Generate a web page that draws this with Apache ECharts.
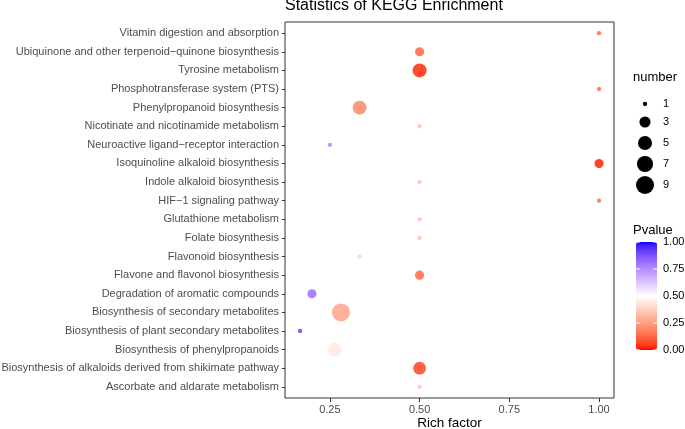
<!DOCTYPE html>
<html><head><meta charset="utf-8">
<script src="https://cdn.jsdelivr.net/npm/echarts@6/dist/echarts.min.js"></script>
<style>html,body{margin:0;padding:0;background:#fff}#c{width:685px;height:429px}</style>
</head><body><div id="c"></div>
<script>
// categories listed bottom -> top
const categories = [
 "Ascorbate and aldarate metabolism",
 "Biosynthesis of alkaloids derived from shikimate pathway",
 "Biosynthesis of phenylpropanoids",
 "Biosynthesis of plant secondary metabolites",
 "Biosynthesis of secondary metabolites",
 "Degradation of aromatic compounds",
 "Flavone and flavonol biosynthesis",
 "Flavonoid biosynthesis",
 "Folate biosynthesis",
 "Glutathione metabolism",
 "HIF\u22121 signaling pathway",
 "Indole alkaloid biosynthesis",
 "Isoquinoline alkaloid biosynthesis",
 "Neuroactive ligand\u2212receptor interaction",
 "Nicotinate and nicotinamide metabolism",
 "Phenylpropanoid biosynthesis",
 "Phosphotransferase system (PTS)",
 "Tyrosine metabolism",
 "Ubiquinone and other terpenoid\u2212quinone biosynthesis",
 "Vitamin digestion and absorption"
];
const richFactor = [0.5, 0.5, 0.263, 0.167, 0.281, 0.2, 0.5, 0.333, 0.5, 0.5, 1.0, 0.5, 1.0, 0.25, 0.5, 0.333, 1.0, 0.5, 0.5, 1.0];
const geneNumber = [1, 4, 5, 1, 9, 2, 2, 1, 1, 1, 1, 1, 2, 1, 1, 5, 1, 5, 2, 1];
const pValue     = [0.36, 0.11, 0.45, 0.86, 0.30, 0.77, 0.18, 0.58, 0.36, 0.36, 0.18, 0.36, 0.06, 0.72, 0.36, 0.24, 0.18, 0.07, 0.18, 0.18];
const xTicks = [0.25, 0.50, 0.75, 1.00];
const sizeBreaks = [1, 3, 5, 7, 9];
const pBreaks = [0.00, 0.25, 0.50, 0.75, 1.00];

const FONT = "'Liberation Sans', Arial, Helvetica, sans-serif";
const nMin = Math.min(...geneNumber), nMax = Math.max(...geneNumber);
function sizeOf(v){ return 4.3 + 13.7*Math.sqrt((v-nMin)/(nMax-nMin)); }

// Lab interpolation (like ggplot's gradient2)
function srgb2lin(c){c/=255;return c<=0.04045?c/12.92:Math.pow((c+0.055)/1.055,2.4);}
function lin2srgb(c){c=Math.max(0,Math.min(1,c));return Math.round(255*(c<=0.0031308?12.92*c:1.055*Math.pow(c,1/2.4)-0.055));}
function rgb2lab(r,g,b){
  r=srgb2lin(r);g=srgb2lin(g);b=srgb2lin(b);
  let X=(0.4124*r+0.3576*g+0.1805*b)/0.95047, Y=0.2126*r+0.7152*g+0.0722*b, Z=(0.0193*r+0.1192*g+0.9505*b)/1.08883;
  const f=t=>t>0.008856?Math.cbrt(t):7.787*t+16/116;
  const fx=f(X),fy=f(Y),fz=f(Z);
  return [116*fy-16,500*(fx-fy),200*(fy-fz)];
}
function lab2rgb(L,a,bb){
  const fy=(L+16)/116, fx=fy+a/500, fz=fy-bb/200;
  const fi=t=>t>0.206893?t*t*t:(t-16/116)/7.787;
  const X=fi(fx)*0.95047,Y=fi(fy),Z=fi(fz)*1.08883;
  const r=3.2406*X-1.5372*Y-0.4986*Z, g=-0.9689*X+1.8758*Y+0.0415*Z, b=0.0557*X-0.2040*Y+1.0570*Z;
  return 'rgb('+lin2srgb(r)+','+lin2srgb(g)+','+lin2srgb(b)+')';
}
const LR=rgb2lab(255,0,0), LW=rgb2lab(255,255,255), LB=rgb2lab(0,0,255);
const stops=[];
for(let i=0;i<=40;i++){
  const p=i/40; let A,B,t;
  if(p<=0.5){A=LR;B=LW;t=p/0.5;}else{A=LW;B=LB;t=(p-0.5)/0.5;}
  stops.push(lab2rgb(A[0]+(B[0]-A[0])*t,A[1]+(B[1]-A[1])*t,A[2]+(B[2]-A[2])*t));
}

const data = categories.map((c,i)=>[richFactor[i], i, geneNumber[i], pValue[i]]);

// layout constants
const G = {left:285, right:71, top:22, bottom:31};
const barX=636, barY=242, barW=21, barH=108;

const graphics = [];
graphics.push({type:'text', left:633, top:71, style:{text:'number', font:'13px '+FONT, fill:'#000'}});
const legY=[104,122,143,164,185];
sizeBreaks.forEach((v,i)=>{
  const r=sizeOf(v)/2;
  graphics.push({type:'circle', shape:{cx:645, cy:legY[i], r:r}, style:{fill:'#000'}});
  graphics.push({type:'text', x:663, y:legY[i], style:{text:String(v), font:'11px '+FONT, fill:'#000', verticalAlign:'middle'}});
});
graphics.push({type:'text', left:633, top:224, style:{text:'Pvalue', font:'13px '+FONT, fill:'#000'}});
pBreaks.forEach(p=>{
  const y=barY+barH-p*barH;
  graphics.push({type:'text', x:663, y:y, style:{text:p.toFixed(2), font:'11px '+FONT, fill:'#000', verticalAlign:'middle'}, z:10});
  graphics.push({type:'line', shape:{x1:barX, y1:y, x2:barX+4, y2:y}, style:{stroke:'#fff', lineWidth:1}, z:10});
  graphics.push({type:'line', shape:{x1:barX+barW-4, y1:y, x2:barX+barW, y2:y}, style:{stroke:'#fff', lineWidth:1}, z:10});
});

const chart = echarts.init(document.getElementById('c'), null, {renderer:'canvas'});
chart.setOption({
  animation:false,
  backgroundColor:'#fff',
  textStyle:{fontFamily:FONT},
  title:{text:'Statistics of KEGG Enrichment', left:285, top:-2, padding:0,
    textStyle:{fontSize:16, fontWeight:'normal', color:'#000', fontFamily:FONT}},
  grid:{left:G.left, right:G.right, top:G.top, bottom:G.bottom, show:true, borderColor:'#333', borderWidth:1,
    backgroundColor:'#fff', containLabel:false, outerBoundsMode:'none'},
  xAxis:{type:'value', min:0.125, max:1.0417, position:'bottom',
    name:'Rich factor', nameLocation:'middle', nameGap:18, nameMoveOverlap:false,
    nameTextStyle:{fontSize:13.5, color:'#000', fontFamily:FONT},
    axisLine:{show:false, onZero:false}, splitLine:{show:false},
    axisTick:{show:true, inside:false, length:4, lineStyle:{color:'#333', width:1}, customValues:xTicks},
    axisLabel:{fontSize:11, color:'#4D4D4D', margin:6, customValues:xTicks, formatter:v=>v.toFixed(2)}},
  yAxis:{type:'value', min:-0.6, max:categories.length-1+0.6, position:'left',
    axisLine:{show:false, onZero:false}, splitLine:{show:false},
    axisTick:{show:true, length:3, lineStyle:{color:'#333'}, customValues:categories.map((c,i)=>i)},
    axisLabel:{fontSize:11, color:'#4D4D4D', margin:6, customValues:categories.map((c,i)=>i),
      formatter:v=>categories[Math.round(v)]}},
  visualMap:{type:'continuous', min:0, max:1, dimension:3, seriesIndex:0,
    left:barX, top:barY, itemWidth:barW, itemHeight:barH, padding:0,
    calculable:false, text:null, showLabel:false, hoverLink:false,
    inRange:{color:stops}},
  series:[{type:'scatter', data:data,
    symbol:'circle',
    symbolSize:d=>sizeOf(d[2]),
    itemStyle:{opacity:1}}],
  graphic:graphics
});
</script></body></html>
